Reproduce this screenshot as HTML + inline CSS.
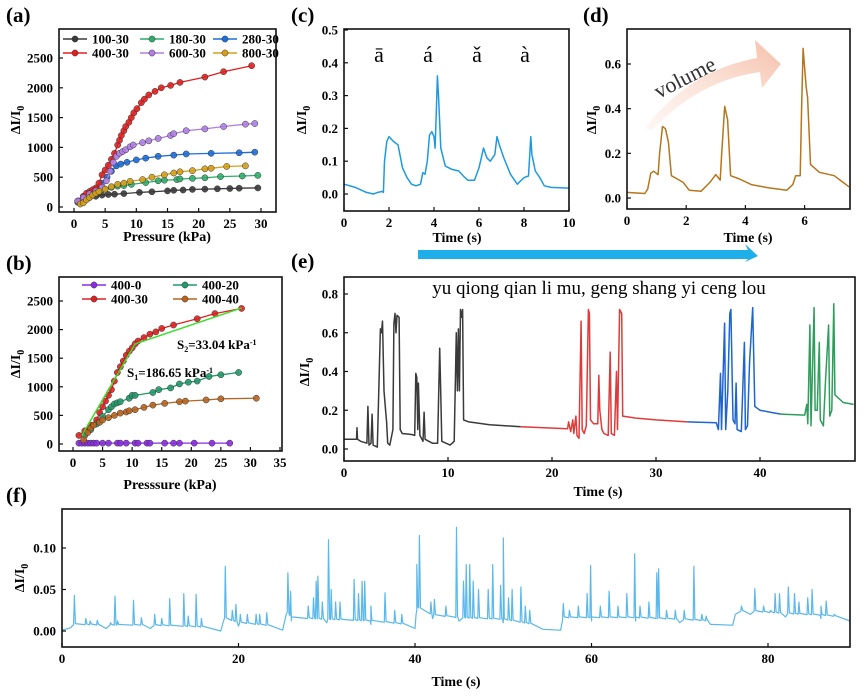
<!DOCTYPE html>
<html><head><meta charset="utf-8"><style>
body{margin:0;background:#fff}
svg{display:block;font-family:"Liberation Serif",serif}
.tk{font-size:13px;font-weight:bold}
.ttl{font-size:14px;font-weight:bold}
.pl{font-size:21px;font-weight:bold}
</style></head><body>
<svg id="fig" width="865" height="696" viewBox="0 0 865 696"></svg>
<script>
// ---------- Panel (a) data ----------
const aSeries=["100-30","180-30","280-30","400-30","600-30","800-30"];
const aColors=["#3a3a3a","#2fae6a","#1e6ed8","#e02020","#b07ee6","#d4a017"];
const aX=[
[0.6,1.5,2.5,3.5,4.5,5.5,6.5,8,10.5,12.5,15,16,17.5,19,21,23,25,26.5,29.5],
[1,2,3,4,5,6,7,8,9.2,11.5,13.5,14.5,16.5,17,19,21,23.5,27,29.5],
[0.6,1.5,2.5,3.5,4.5,5.3,6,6.8,7.5,8.5,10,11.5,13.5,16,18,22,26.5,29],
[0.8,1.5,2,2.5,3,3.5,4,4.5,5,5.5,6,6.5,7,7.3,7.6,8,8.3,8.8,9.2,9.6,10.1,10.8,11.3,12,13,14,15.5,17,21,24,28.5],
[0.6,1.5,2.5,3.5,4.5,5.2,5.8,6.3,6.8,7.3,7.8,8.3,9,9.5,11,12,13.5,15.5,16,18,21,24,27.5,29],
[1,1.5,2,2.5,3,3.5,4,5,6,7,8,9,11,12.5,14.5,16,17,19,21,22,24.5,27.5]];
const aY=[
[80,130,160,180,200,210,215,225,245,255,270,280,285,295,300,305,310,315,320],
[80,150,210,260,300,330,350,360,380,410,440,450,460,470,480,490,510,520,530],
[100,170,230,300,400,500,600,690,720,750,790,820,850,870,890,900,910,920],
[100,180,230,260,290,320,400,540,620,700,800,900,1040,1120,1200,1280,1350,1420,1500,1580,1650,1750,1810,1880,1940,2000,2040,2090,2180,2270,2370],
[100,160,220,270,330,440,600,750,850,900,930,960,1010,1040,1080,1110,1150,1200,1230,1280,1310,1350,1390,1400],
[50,70,120,160,200,230,260,300,340,380,400,430,460,500,540,570,590,610,640,650,680,690]];
const aXTicks=[0,5,10,15,20,25,30];
const aYTicks=[0,500,1000,1500,2000,2500];
// ---------- Panel (b) data ----------
const bSeries=["400-0","400-30","400-20","400-40"];
const bColors=["#8a2be2","#e02020","#1f9a6a","#b8641e"];
const bX=[
[1,1.5,2,2.5,3,3.5,4,5,6,7.5,8,9,10.5,11,12.5,13,15.5,17,18,20.5,23.5,26.5],
[1,2,3,4,4.5,5,5.5,6,6.5,7,7.5,8,8.5,9,9.5,10,10.5,11,12,13,14,15,17,21,24,28.5],
[2,3,4,5,6,6.5,7,7.5,8,9.5,10,10.5,13.5,14.5,16.5,18,19.5,21,23,25,28],
[1.8,2.5,3,3.5,4.5,5,6,7,8,9,9.5,10.5,12,13.5,15.5,18,19,22.5,25,31]];
const bY=[
[15,15,15,15,15,15,15,15,15,15,15,15,15,15,15,15,15,15,15,15,15,15],
[150,230,330,420,550,650,750,850,950,1100,1250,1350,1450,1550,1620,1680,1750,1800,1860,1920,1960,2020,2080,2190,2280,2370],
[150,250,350,480,600,650,700,720,740,800,850,850,900,950,980,1050,1080,1100,1180,1210,1250],
[70,200,280,330,380,420,460,500,540,560,580,600,640,680,710,740,750,770,790,800]];
const bFitX=[1.5,10.5,28.5];
const bFitY=[150,1750,2380];
const bXTicks=[0,5,10,15,20,25,30,35];
const bYTicks=[0,500,1000,1500,2000,2500];
// ---------- Panel (c) data ----------
const cT=[0,0.5,1,1.3,1.5,1.7,1.75,1.8,1.9,2.0,2.2,2.4,2.6,2.8,3,3.2,3.4,3.5,3.6,3.7,3.8,3.9,4.0,4.05,4.1,4.15,4.2,4.3,4.5,4.8,5.1,5.3,5.5,5.8,6.0,6.2,6.35,6.5,6.7,6.8,6.9,7.1,7.4,7.7,8.0,8.2,8.3,8.35,8.5,8.7,8.9,9.2,10];
const cV=[0.03,0.02,0.005,0,0.005,0.008,0.005,0.1,0.16,0.175,0.16,0.15,0.08,0.05,0.03,0.025,0.03,0.065,0.06,0.1,0.18,0.19,0.175,0.14,0.25,0.36,0.3,0.14,0.085,0.075,0.07,0.055,0.042,0.042,0.08,0.14,0.11,0.1,0.12,0.175,0.15,0.11,0.06,0.03,0.05,0.055,0.175,0.12,0.07,0.05,0.025,0.02,0.018];
const cXTicks=[0,2,4,6,8,10];
const cYTicks=[0,0.1,0.2,0.3,0.4,0.5];
// ---------- Panel (d) data ----------
const dT=[0,0.6,0.7,0.8,0.9,1.05,1.1,1.2,1.3,1.4,1.5,1.7,1.9,2.1,2.5,2.8,3.0,3.15,3.2,3.3,3.4,3.5,3.8,4.2,4.8,5.4,5.6,5.7,5.85,5.9,5.95,6.05,6.1,6.2,6.5,7.0,7.3,7.5];
const dV=[0.025,0.02,0.04,0.11,0.12,0.105,0.2,0.32,0.31,0.25,0.1,0.085,0.07,0.035,0.03,0.07,0.105,0.08,0.2,0.41,0.35,0.1,0.085,0.06,0.045,0.035,0.06,0.1,0.1,0.4,0.67,0.5,0.45,0.15,0.115,0.1,0.07,0.05];
const dXTicks=[0,2,4,6];
const dYTicks=[0,0.2,0.4,0.6];
// ---------- Panel (e) data ----------
const eColors=["#3a3a3a","#e03a3a","#1f64d0","#2e9e5c"];
const eT=[
[0,1.2,1.25,1.3,1.6,2.2,2.3,2.4,2.6,2.7,2.8,3.2,3.5,3.6,3.7,3.85,4.0,4.1,4.2,4.4,4.7,4.8,4.9,5.0,5.1,5.3,5.4,5.6,6.5,6.8,6.9,7.0,7.1,7.15,7.3,7.6,7.7,7.8,8.5,9.0,9.2,9.3,9.4,10.2,10.6,10.8,10.9,11.0,11.1,11.2,11.3,11.4,11.5,12,14,17],
[17,21.5,21.6,21.8,22.0,22.1,22.3,22.4,22.6,22.8,22.9,23.1,23.3,23.5,23.6,23.7,24.0,24.4,24.5,24.6,24.8,25.0,25.4,25.6,25.7,26.0,26.2,26.3,26.5,26.7,26.8,28,30,33],
[33,35.8,36.0,36.2,36.3,36.6,36.7,36.9,37.1,37.2,37.4,37.6,37.7,37.8,38.2,38.5,38.6,38.8,39.0,39.3,39.5,40,41,42],
[42,44.3,44.5,44.6,44.8,44.9,45.2,45.3,45.5,45.7,45.8,46.1,46.3,46.6,46.7,46.9,47.1,47.2,48,49]];
const eV=[
[0.05,0.05,0.11,0.05,0.04,0.03,0.22,0.02,0.03,0.18,0.02,0.01,0.62,0.6,0.66,0.3,0.2,0.14,0.03,0.02,0.1,0.65,0.7,0.6,0.69,0.68,0.1,0.08,0.075,0.07,0.39,0.37,0.1,0.34,0.07,0.04,0.19,0.05,0.03,0.03,0.52,0.3,0.04,0.02,0.04,0.6,0.3,0.62,0.3,0.72,0.68,0.72,0.15,0.14,0.125,0.115],
[0.115,0.105,0.14,0.09,0.15,0.08,0.17,0.07,0.055,0.66,0.1,0.08,0.12,0.72,0.7,0.15,0.13,0.13,0.38,0.2,0.1,0.08,0.07,0.5,0.08,0.07,0.4,0.1,0.72,0.7,0.17,0.16,0.15,0.14],
[0.14,0.135,0.1,0.39,0.1,0.65,0.1,0.3,0.7,0.72,0.15,0.13,0.34,0.1,0.09,0.55,0.1,0.12,0.45,0.73,0.22,0.2,0.19,0.18],
[0.18,0.175,0.23,0.13,0.64,0.12,0.73,0.2,0.2,0.55,0.15,0.12,0.35,0.64,0.17,0.2,0.75,0.28,0.24,0.23]];
const eXTicks=[0,10,20,30,40];
const eYTicks=[0,0.2,0.4,0.6,0.8];
// ---------- Panel (f) data ----------
const fBaseT=[0,1,5,10,18,18.3,20,25,25.4,26,30,35,40,40.2,42,45,50,54.5,56.5,56.7,60,65,70,73.5,76,76.3,78,82,86,89.3];
const fBaseV=[0.001,0.004,0.003,0.003,0,0.012,0.006,0.001,0.02,0.012,0.01,0.008,0.003,0.025,0.015,0.012,0.01,0.002,0.001,0.012,0.012,0.012,0.01,0.008,0.007,0.02,0.02,0.017,0.015,0.012];
const fSpikeT=[1.4,2.7,3.2,4,5.5,6,6.3,8.1,9,10.5,11.3,12.2,13.8,14.3,15.2,15.8,18.5,19.3,19.7,20.2,21,22,22.4,23.2,25.6,25.9,27.9,28.5,28.8,29,29.5,30.2,30.5,31,31.5,33.1,33.6,34,34.3,35,36.6,37.7,38.5,40.2,40.5,41.8,42.2,43.5,44.7,45.5,45.8,46.2,46.6,47.2,48.3,48.8,49.7,50,50.6,51,52,52.5,53,56.8,57.5,58.5,59.5,59.9,61,62,63,64,64.9,65.5,66.5,67.4,67.6,68.5,69.5,70.5,71.6,72.5,73,77,78.5,79.5,80.3,80.8,81.3,82.3,83,83.5,84.5,85,86,86.6,87.5];
const fSpikeV=[0.043,0.015,0.012,0.013,0.01,0.042,0.012,0.037,0.016,0.02,0.015,0.039,0.045,0.018,0.044,0.015,0.078,0.025,0.032,0.02,0.02,0.02,0.02,0.022,0.07,0.048,0.03,0.04,0.06,0.066,0.035,0.11,0.05,0.035,0.035,0.062,0.045,0.06,0.06,0.03,0.046,0.025,0.02,0.08,0.115,0.035,0.038,0.03,0.125,0.06,0.08,0.08,0.06,0.05,0.05,0.08,0.055,0.112,0.04,0.05,0.053,0.03,0.025,0.033,0.025,0.03,0.045,0.079,0.03,0.048,0.03,0.045,0.093,0.03,0.035,0.07,0.075,0.025,0.025,0.025,0.078,0.02,0.018,0.03,0.051,0.03,0.025,0.045,0.045,0.053,0.045,0.035,0.04,0.05,0.03,0.036,0.02];
const fXTicks=[0,20,40,60,80];
const fYTicks=[0,0.05,0.1];

// ---------- helpers ----------
const NS="http://www.w3.org/2000/svg";
const svg=document.getElementById('fig');
function mk(tag,attrs,parent,txt){const e=document.createElementNS(NS,tag);for(const k in attrs)e.setAttribute(k,attrs[k]);if(txt!==undefined)e.textContent=txt;(parent||svg).appendChild(e);return e;}
function lin(d0,d1,p0,p1){return v=>p0+(v-d0)*(p1-p0)/(d1-d0);}
function axes(g,box,sx,sy,xt,yt,fmtY,fmtX){
  const r=mk('rect',{x:box[0],y:box[1],width:box[2]-box[0],height:box[3]-box[1],fill:'none',stroke:'#111','stroke-width':1.6},g);
  
  
  xt.forEach(v=>{const x=sx(v);mk('line',{x1:x,x2:x,y1:box[3],y2:box[3]-4,stroke:'#111','stroke-width':1.2},g);
    const t=mk('text',{x:x,y:box[3]+16,'text-anchor':'middle',class:'tk'},g,fmtX?fmtX(v):String(v));
    
    });
  yt.forEach(v=>{const y=sy(v);mk('line',{x1:box[0],x2:box[0]+4,y1:y,y2:y,stroke:'#111','stroke-width':1.2},g);
    const t=mk('text',{x:box[0]-6,y:y+4.5,'text-anchor':'end',class:'tk'},g,fmtY?fmtY(v):String(v));
    
    });
}
function ylab(g,x,y){const t=mk('text',{x:x,y:y,'text-anchor':'middle',class:'ttl',transform:`rotate(-90 ${x} ${y})`},g);
  
  
  mk('tspan',{},t,'ΔI/I');mk('tspan',{dy:4,'font-size':10},t,'0');}
function xlab(g,x,y,s){const t=mk('text',{x:x,y:y,'text-anchor':'middle',class:'ttl'},g,s);
  
  }
function plab(x,y,s){const t=mk('text',{x:x,y:y,class:'pl'},svg,s);
  
  }
function path(g,xs,ys,sx,sy,col,w){let d='';xs.forEach((v,i)=>{d+=(i?'L':'M')+sx(v).toFixed(1)+','+sy(ys[i]).toFixed(1);});
  const p=mk('path',{d:d,fill:'none',stroke:col,'stroke-width':w||1.4,'stroke-linejoin':'round'},g);return p;}
function markers(g,xs,ys,sx,sy,col){xs.forEach((v,i)=>{const c=mk('circle',{cx:sx(v),cy:sy(ys[i]),r:3.1,fill:col,stroke:'#333','stroke-width':0.5,'fill-opacity':0.9},g);
  
  });}

// ---------- (a) ----------
{const g=mk('g',{});
 const box=[59,29,276,212],sx=lin(0,30,74,261),sy=lin(0,2500,207,58);
 aSeries.forEach((n,i)=>{const p=path(g,aX[i],aY[i],sx,sy,aColors[i],1.3);
   
   markers(g,aX[i],aY[i],sx,sy,aColors[i]);});
 axes(g,box,sx,sy,aXTicks,aYTicks);
 aSeries.forEach((n,i)=>{const col=i%3,row=Math.floor(i/3);const x0=[63,140,213][col],y=[39,53][row];
   const le=mk('g',{},g);
   mk('line',{x1:x0,x2:x0+24,y1:y,y2:y,stroke:aColors[i],'stroke-width':1.4},le);
   mk('circle',{cx:x0+12,cy:y,r:3.1,fill:aColors[i],stroke:'#333','stroke-width':0.5},le);
   mk('text',{x:x0+29,y:y+4.5,class:'tk','font-size':12},le,n);});
 ylab(g,20,120);xlab(g,167,241,'Pressure (kPa)');plab(6,22,'(a)');}

// ---------- (b) ----------
{const g=mk('g',{});
 const box=[59,277,282,451],sx=lin(0,35,73,280),sy=lin(0,2500,444,301);
 bSeries.forEach((n,i)=>{const p=path(g,bX[i],bY[i],sx,sy,bColors[i],1.3);
   
   markers(g,bX[i],bY[i],sx,sy,bColors[i]);});
 const fit=path(g,bFitX,bFitY,sx,sy,'#3ddc2a',1.5);
 
 axes(g,box,sx,sy,bXTicks,bYTicks);
 const pos=[[82,285],[82,299],[173,285],[173,299]];
 bSeries.forEach((n,i)=>{const [x0,y]=pos[i];
   const le=mk('g',{},g);
   mk('line',{x1:x0,x2:x0+24,y1:y,y2:y,stroke:bColors[i],'stroke-width':1.4},le);
   mk('circle',{cx:x0+12,cy:y,r:3.1,fill:bColors[i],stroke:'#333','stroke-width':0.5},le);
   mk('text',{x:x0+29,y:y+4.5,class:'tk','font-size':12},le,n);});
 const s2=mk('text',{x:177,y:349,class:'tk','font-size':10.5},g);
 mk('tspan',{},s2,'S');mk('tspan',{dy:3,'font-size':8},s2,'2');mk('tspan',{dy:-3},s2,'=33.04 kPa');mk('tspan',{dy:-4,'font-size':8},s2,'-1');
 const s1=mk('text',{x:127,y:377,class:'tk','font-size':10.5},g);
 mk('tspan',{},s1,'S');mk('tspan',{dy:3,'font-size':8},s1,'1');mk('tspan',{dy:-3},s1,'=186.65 kPa');mk('tspan',{dy:-4,'font-size':8},s1,'-1');
 ylab(g,20,364);xlab(g,170,489,'Presssure (kPa)');plab(6,270,'(b)');}

// ---------- (c) ----------
{const g=mk('g',{});
 const box=[344,29,569,211],sx=lin(0,10,344,569),sy=lin(0,0.5,194,30);
 const p=path(g,cT,cV,sx,sy,'#1e9ae0',1.5);
 axes(g,box,sx,sy,cXTicks,cYTicks,v=>v.toFixed(1));
 ['ā','á','ǎ','à'].forEach((s,i)=>{const t=mk('text',{x:[379,428,477,525][i],y:62,'text-anchor':'middle','font-size':22},g,s);
   });
 ylab(g,306,120);xlab(g,457,242,'Time (s)');plab(291,22,'(c)');}

// ---------- (d) ----------
{const g=mk('g',{});
 const box=[627,29,850,209],sx=lin(0,7.5,627,849),sy=lin(0,0.6,198,64);
 const defs=mk('defs',{},g);const lg=mk('linearGradient',{id:'vg',x1:0,y1:1,x2:1,y2:0},defs);
 mk('stop',{offset:0,'stop-color':'#fbe3d8','stop-opacity':0.3},lg);mk('stop',{offset:1,'stop-color':'#f4b49a','stop-opacity':0.85},lg);
 const ar=mk('path',{d:'M645,128 Q690,70 757,58 L755,40 L781,64 L762,88 L760,72 Q700,80 652,130 Z',fill:'url(#vg)'},g);
 
 const vt=mk('text',{x:688,y:84,'text-anchor':'middle','font-size':22,fill:'#333',transform:'rotate(-27 688 84)'},g,'volume');
 
 const p=path(g,dT,dV,sx,sy,'#b5761c',1.5);
 axes(g,box,sx,sy,dXTicks,dYTicks,v=>v.toFixed(1));
 ylab(g,596,120);xlab(g,748,242,'Time (s)');plab(583,22,'(d)');}

// ---------- connecting arrow ----------
{const a=mk('path',{d:'M418,250 L748,250 L745,244 L758,256 L745,262 L748,259 L418,259 Z',fill:'#1eaee8'});
 }

// ---------- (e) ----------
{const g=mk('g',{});
 const box=[344,277,855,461],sx=lin(0,10,344,448),sy=lin(0,0.8,449,294);
 eT.forEach((ts,i)=>{const p=path(g,ts,eV[i],sx,sy,eColors[i],1.5);
   });
 axes(g,box,sx,sy,eXTicks,eYTicks,v=>v.toFixed(1));
 const t=mk('text',{x:599,y:294,'text-anchor':'middle','font-size':19},g,'yu qiong qian li mu, geng shang yi ceng lou');
 
 ylab(g,309,372);xlab(g,598,496,'Time (s)');plab(291,268,'(e)');}

// ---------- (f) ----------
{const g=mk('g',{});
 const box=[62,509,850,647],sx=lin(0,80,62,768),sy=lin(0,0.1,631,548);
 // merge baseline and spikes
 const pts=[];fBaseT.forEach((t,i)=>pts.push([t,fBaseV[i]]));
 function base(t){for(let i=1;i<fBaseT.length;i++){if(t<=fBaseT[i]){const k=(t-fBaseT[i-1])/(fBaseT[i]-fBaseT[i-1]);return fBaseV[i-1]+k*(fBaseV[i]-fBaseV[i-1]);}}return fBaseV[fBaseV.length-1];}
 fSpikeT.forEach((t,i)=>{pts.push([t-0.08,base(t-0.08)+0.004]);pts.push([t,fSpikeV[i]]);pts.push([t+0.12,base(t+0.12)+0.005]);});
 pts.sort((a,b)=>a[0]-b[0]);
 const p=path(g,pts.map(q=>q[0]),pts.map(q=>q[1]),sx,sy,'#5bb8ea',1.2);
 
 axes(g,box,sx,sy,fXTicks,fYTicks,v=>v.toFixed(2));
 ylab(g,24,578);xlab(g,456,686,'Time (s)');plab(6,502,'(f)');}
</script>
</body></html>
